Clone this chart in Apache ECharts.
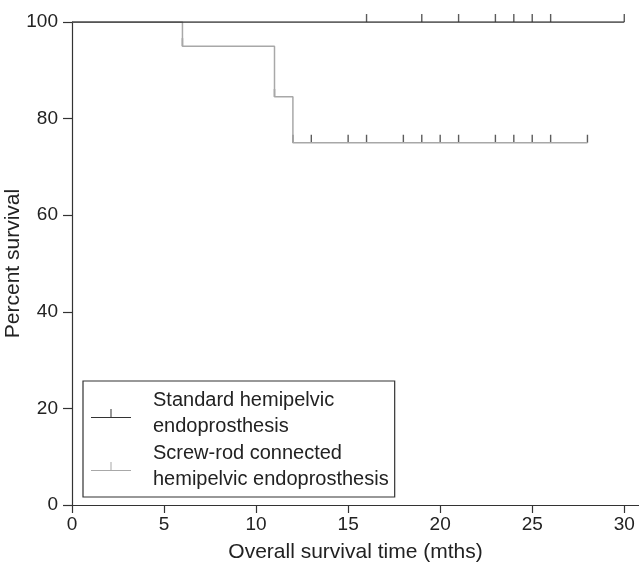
<!DOCTYPE html>
<html>
<head>
<meta charset="utf-8">
<script src="https://cdn.jsdelivr.net/npm/echarts@6/dist/echarts.min.js"></script>
<style>
  html, body { margin: 0; padding: 0; background: #fff; }
  #chart { width: 639px; height: 567px; }
</style>
</head>
<body>
<div id="chart"></div>
<script>
  // Kaplan-Meier curves
  var stdTimes = [0, 30]
  var stdSurv = [100, 100]
  var stdCensorTimes = [16, 19, 21, 23, 24, 25, 26, 30]
  var stdCensorSurv = [100, 100, 100, 100, 100, 100, 100, 100]

  var screwTimes = [0, 6, 11, 12, 28]
  var screwSurv = [100, 95, 84.5, 75, 75]
  var screwCensorTimes = [6, 11, 12, 13, 15, 16, 18, 19, 20, 21, 23, 24, 25, 26, 28]
  var screwCensorSurv = [95, 84.5, 75, 75, 75, 75, 75, 75, 75, 75, 75, 75, 75, 75, 75]

  var xTicks = [0, 5, 10, 15, 20, 25, 30]

  var names = ['Standard hemipelvic\nendoprosthesis', 'Screw-rod connected\nhemipelvic endoprosthesis']
  var font = 'Liberation Sans, Arial, sans-serif'

  function pairs (xs, ys) {
    return xs.map(function (x, i) { return [x, ys[i]] })
  }

  var chart = echarts.init(document.getElementById('chart'))
  var tickIcon = 'path://M0,8h40v1h-40zM19.5,0h1v8h-1z'

  var options = {
    animation: false,
    grid: { left: 72, right: 0, top: 22, bottom: 62, outerBoundsMode: 'none', containLabel: false },
    legend: {
      orient: 'vertical',
      left: 83,
      top: 381,
      data: [
        { name: names[0], icon: tickIcon },
        { name: names[1], icon: tickIcon }
      ],
      itemWidth: 40,
      itemHeight: 9,
      itemGap: 0,
      borderColor: '#333',
      borderWidth: 1.2,
      padding: [6, 6, 4, 8],
      textStyle: {
        fontFamily: font,
        fontSize: 20,
        lineHeight: 26.5,
        color: '#222',
        padding: [0, 0, 0, 17]
      }
    },
    xAxis: {
      type: 'value',
      min: 0,
      max: 30.8,
      name: 'Overall survival time (mths)',
      nameLocation: 'middle',
      nameGap: 37,
      nameTextStyle: { fontFamily: font, fontSize: 21, color: '#222' },
      splitLine: { show: false },
      axisLine: { lineStyle: { color: '#333', width: 1.2 } },
      axisTick: { length: 8, customValues: xTicks, lineStyle: { color: '#333', width: 1.2 } },
      axisLabel: { customValues: xTicks, margin: 10, fontFamily: font, fontSize: 19, color: '#222' }
    },
    yAxis: {
      type: 'value',
      min: 0,
      max: 100,
      interval: 20,
      name: 'Percent survival',
      nameLocation: 'middle',
      nameRotate: 90,
      nameGap: 48,
      nameMoveOverlap: false,
      nameTextStyle: { fontFamily: font, fontSize: 21, color: '#222' },
      splitLine: { show: false },
      axisLine: { show: true, lineStyle: { color: '#333', width: 1.2 } },
      axisTick: { show: true, length: 9, lineStyle: { color: '#333', width: 1.2 } },
      axisLabel: { margin: 14, fontFamily: font, fontSize: 19, color: '#222' }
    },
    series: [
      {
        name: names[1],
        type: 'line',
        step: 'end',
        symbol: 'none',
        color: '#a8a8a8',
        lineStyle: { color: '#a8a8a8', width: 1.5 },
        data: pairs(screwTimes, screwSurv)
      },
      {
        name: names[0],
        type: 'line',
        step: 'end',
        symbol: 'none',
        color: '#333',
        lineStyle: { color: '#333', width: 1.5 },
        data: pairs(stdTimes, stdSurv)
      },
      {
        name: 'screwCensor',
        type: 'scatter',
        symbol: 'rect',
        symbolSize: [1.4, 8],
        symbolOffset: [0, -4],
        itemStyle: { color: '#333' },
        data: pairs(screwCensorTimes, screwCensorSurv)
      },
      {
        name: 'stdCensor',
        type: 'scatter',
        symbol: 'rect',
        symbolSize: [1.4, 8],
        symbolOffset: [0, -4],
        itemStyle: { color: '#333' },
        data: pairs(stdCensorTimes, stdCensorSurv)
      }
    ]
  }
  chart.setOption(options)
</script>
</body>
</html>
